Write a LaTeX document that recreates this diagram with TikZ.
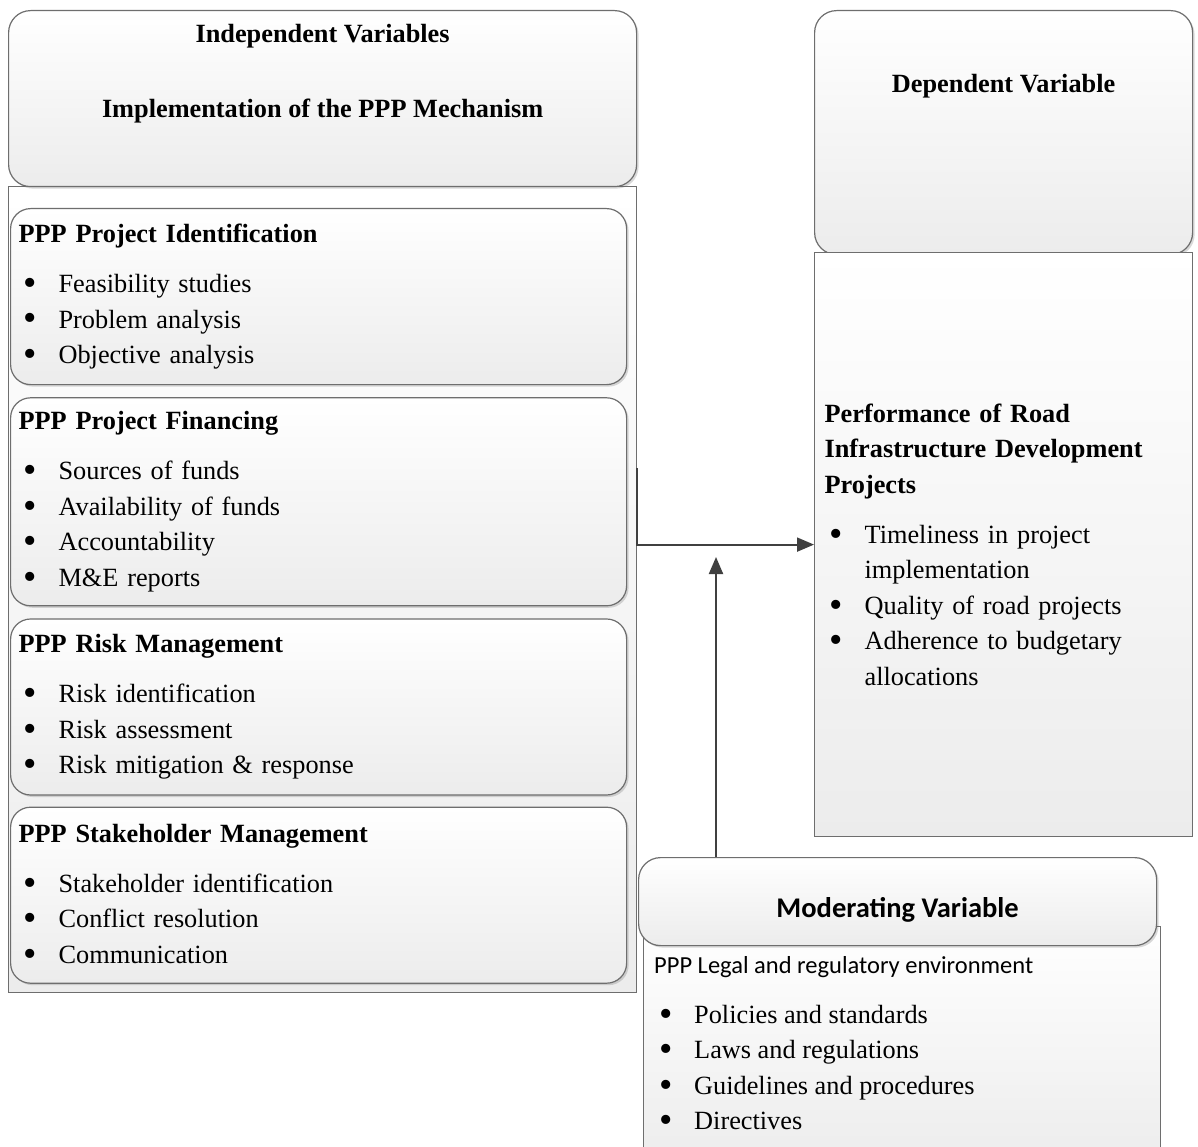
\documentclass[tikz,border=0pt]{standalone}
\usepackage{fontspec}
\usepackage{graphicx}
\setmainfont{Liberation Serif}
\newfontfamily\calibfont{Carlito}
\usetikzlibrary{arrows.meta, positioning, calc, shadows}
\definecolor{boxbottom}{HTML}{ECECEC}
\definecolor{boxborder}{HTML}{6E6E6E}
\definecolor{darkline}{HTML}{404040}
\newcommand{\bigtext}{\fontsize{26.3}{35.5}\selectfont}
\newcommand{\modtext}{\calibfont\fontsize{24.5}{30}\selectfont}
\newcommand{\itm}[1]{\hspace*{5pt}\makebox[35pt][l]{\raisebox{-2.8pt}{\scalebox{1.45}{\textbullet}}}#1}
\tikzset{
  panel/.style={rectangle, draw=boxborder, line width=1.2pt, top color=white,
                bottom color=boxbottom, inner sep=0pt},
  head/.style={panel, rounded corners=22pt,
               drop shadow={shadow xshift=2pt, shadow yshift=-2pt, opacity=0.25, fill=black!60}},
  card/.style={head, rounded corners=20pt, align=left, text width=600pt,
               inner xsep=8pt, inner ysep=0pt, minimum height=176pt, font=\bigtext},
  title/.style={font=\bigtext\bfseries, inner sep=0pt},
  listtext/.style={align=left, inner sep=0pt, font=\bigtext},
  flow/.style={-{Triangle[length=17pt, width=14pt]}, line width=2pt, draw=darkline},
}

\begin{document}
\begin{tikzpicture}[x=1pt, y=-1pt]
\clip (0,0) rectangle (1198,1147);

% Independent variables
\node[panel, anchor=north west, minimum width=628pt, minimum height=806pt] (ivpanel) at (8,186) {};
\node[head, anchor=north west, minimum width=628pt, minimum height=176pt] (ivhead) at (8,10) {};
\node[title] (ivtitle) at ($(ivhead.north)+(0,26)$) {Independent Variables};
\node[title] (ivsub)   at ($(ivhead.north)+(0,101)$) {Implementation of the PPP Mechanism};

\node[card, anchor=north west] (ident) at (10,208) {%
  \textbf{PPP Project Identification}\\[14.5pt]
  \itm{Feasibility studies}\\
  \itm{Problem analysis}\\
  \itm{Objective analysis}};
\node[card, minimum height=208pt, below=12pt of ident] (fin) {%
  \textbf{PPP Project Financing}\\[14.5pt]
  \itm{Sources of funds}\\
  \itm{Availability of funds}\\
  \itm{Accountability}\\
  \itm{M\&E reports}};
\node[card, below=12pt of fin] (risk) {%
  \textbf{PPP Risk Management}\\[14.5pt]
  \itm{Risk identification}\\
  \itm{Risk assessment}\\
  \itm{Risk mitigation \& response}};
\node[card, below=11pt of risk] (stake) {%
  \textbf{PPP Stakeholder Management}\\[14.5pt]
  \itm{Stakeholder identification}\\
  \itm{Conflict resolution}\\
  \itm{Communication}};

% Dependent variable
\node[head, anchor=north west, minimum width=378pt, minimum height=244pt] (dephead) at (814,10) {};
\node[title] (deptitle) at ($(dephead.north)+(0,76)$) {Dependent Variable};
\node[panel, anchor=north west, minimum width=378pt, minimum height=584pt,
      text width=358pt, align=left, font=\bigtext] (depbody) at (814,252) {%
  \textbf{Performance of Road}\\
  \textbf{Infrastructure Development}\\
  \textbf{Projects}\\[14.5pt]
  \itm{Timeliness in project}\\
  \hspace*{40pt}implementation\\
  \itm{Quality of road projects}\\
  \itm{Adherence to budgetary}\\
  \hspace*{40pt}allocations};

% Moderating variable
\node[panel, anchor=north west, minimum width=517pt, minimum height=240pt] (modbody) at (643,926) {};
\node[anchor=west, inner sep=0pt, font=\modtext] (modlead) at (654,967) {PPP Legal and regulatory environment};
\node[listtext, anchor=north west] (modlist) at (654,1005) {%
  \itm{Policies and standards}\\
  \itm{Laws and regulations}\\
  \itm{Guidelines and procedures}\\
  \itm{Directives}};
\node[head, anchor=north west, minimum width=518pt, minimum height=88pt] (modhead) at (638,857) {};
\node[font=\calibfont\fontsize{28.5}{32}\selectfont\bfseries, inner sep=0pt]
  (modtitle) at ($(modhead.center)+(0,8)$) {Moderating Variable};

% Flow
\coordinate (jn) at ($(ivpanel.north east)+(0,282)$);
\coordinate (modtip) at (716,557);
\draw[flow] (jn) |- (depbody.west);
\draw[flow] (modhead.north -| modtip) -- (modtip);

\end{tikzpicture}
\end{document}
